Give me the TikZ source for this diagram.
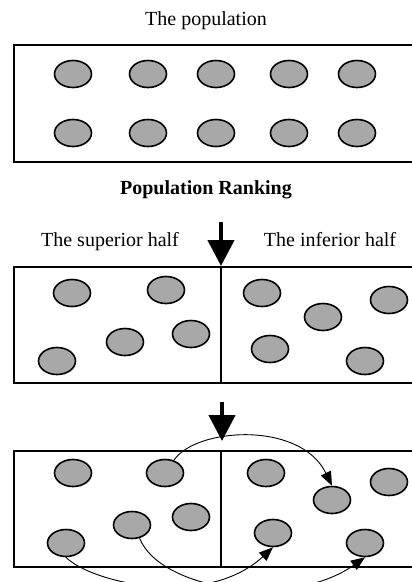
\documentclass[tikz,border=0pt]{standalone}
\usepackage{fontspec}
\setmainfont{Liberation Serif}
\usepackage{tikz}
\usetikzlibrary{arrows.meta,shapes.geometric,positioning}
\definecolor{popgray}{RGB}{168,168,168}
\tikzset{
  indiv/.style={ellipse, draw, line width=1.6pt, fill=popgray,
                minimum width=37pt, minimum height=27pt, inner sep=0pt},
  frame/.style={draw, line width=1.4pt},
  divider/.style={draw, line width=2.6pt},
  rankarrow/.style={-{Triangle[length=26pt,width=26pt]}, line width=4.5pt},
  swap/.style={-{Triangle[length=14pt,width=11pt]}, line width=0.9pt},
  title/.style={font=\fontsize{20}{23}\selectfont, anchor=base, inner sep=0pt},
  rank/.style={font=\fontsize{20}{23}\selectfont\bfseries, anchor=base,
               inner sep=0pt},
}

\begin{document}
\begin{tikzpicture}[x=1pt, y=-1pt]

\useasboundingbox (0,0) rectangle (412,582);
\clip (0,0) rectangle (412,582);
\fill[white] (0,0) rectangle (412,582);

\node[title] (poptitle) at (206,25) {The population};
\draw[frame] (14,45) rectangle (430,162);
\foreach \x [count=\i] in {73,148,216,289,357} {
  \node[indiv] (pop\i) at (\x,74) {};
  \node[indiv] (popb\i) at (\x,133) {};
}

\node[rank] (ranking) at (206,194) {Population Ranking};

\node[title] (suptitle) at (110,246) {The superior half};
\node[title] (inftitle) at (330,246) {The inferior half};
\coordinate (rankfrom) at (221,222);
\coordinate (split2) at (221,266);
\draw[rankarrow] (rankfrom) -- (split2);

\draw[frame] (14,267) rectangle (430,383);
\draw[divider] (221,267) -- (221,383);
\foreach \x/\y [count=\i] in {72/293,166/290,125/342,191/334,57/361} {
  \node[indiv] (sup\i) at (\x,\y) {};
}
\foreach \x/\y [count=\i] in {262/293,323/317,389/300,270/349,365/361} {
  \node[indiv] (inf\i) at (\x,\y) {};
}

\coordinate (stepfrom) at (222,402);
\coordinate (split3) at (222,441);
\draw[rankarrow] (stepfrom) -- (split3);

\draw[frame] (14,451) rectangle (430,567);
\draw[divider] (221,451) -- (221,567);
\foreach \x/\y [count=\i] in {73/473,165/473,191/517,132/525,66/543} {
  \node[indiv] (nsup\i) at (\x,\y) {};
}
\foreach \x/\y [count=\i] in {266/473,332/500,389/482,273/533,365/543} {
  \node[indiv] (ninf\i) at (\x,\y) {};
}

\draw[swap] (nsup2.55) .. controls (195,428) and (300,420) .. (ninf2.north);
\draw[swap] (nsup5.south) .. controls (90,582) and (205,610) .. (ninf4.south);
\draw[swap] (nsup4.-60) .. controls (160,590) and (290,610) .. (ninf5.south);

\end{tikzpicture}
\end{document}
